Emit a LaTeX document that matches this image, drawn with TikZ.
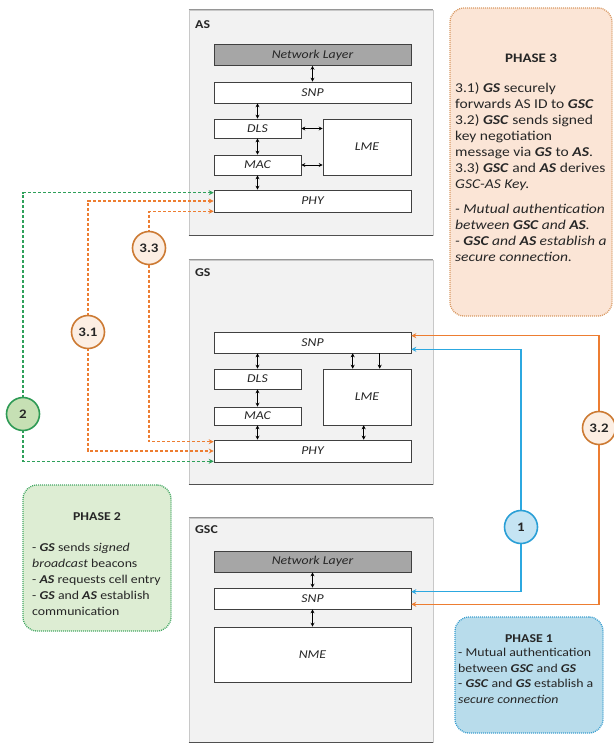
\documentclass[tikz,border=0pt]{standalone}
\usepackage{fontspec}
\setmainfont{Carlito}[FakeStretch=1.15]
\usetikzlibrary{arrows.meta,calc}
\definecolor{cfill}{HTML}{F2F2F2}
\definecolor{cedge}{HTML}{C8C8C8}
\definecolor{cdark}{HTML}{505050}
\definecolor{netgray}{HTML}{A6A6A6}
\definecolor{boxedge}{HTML}{404040}
\definecolor{orangeL}{HTML}{ED7D31}
\definecolor{blueL}{HTML}{2CA8E0}
\definecolor{greenL}{HTML}{2EA05A}
\definecolor{p3fill}{HTML}{FBE5D6}
\definecolor{p3edge}{HTML}{D99A64}
\definecolor{p2fill}{HTML}{DDEDD3}
\definecolor{p2edge}{HTML}{45A865}
\definecolor{p1fill}{HTML}{B8DCEB}
\definecolor{p1edge}{HTML}{3C9FD0}
\definecolor{c1fill}{HTML}{C5E4F3}
\definecolor{c1edge}{HTML}{2A9FD6}
\definecolor{c2fill}{HTML}{C6E0B4}
\definecolor{c2edge}{HTML}{2E9A55}
\definecolor{c3fill}{HTML}{FCEEE3}
\definecolor{c3edge}{HTML}{CC7A33}
\definecolor{txt}{HTML}{262626}
\newcommand{\bi}[1]{\textbf{\textit{#1}}}
\begin{document}
\begin{tikzpicture}[x=1pt,y=-1pt,
  container/.style={draw=cedge, fill=cfill, line width=0.6pt, inner sep=0, minimum width=244pt},
  edgeline/.style={draw=cdark, line width=1pt},
  layer/.style={draw=boxedge, fill=white, line width=0.6pt, inner sep=0, text=txt,
     font=\fontsize{12}{14}\selectfont\itshape, minimum width=197pt, minimum height=21pt},
  netlayer/.style={layer, fill=netgray},
  halfbox/.style={layer, minimum width=87pt},
  lbl/.style={anchor=west, inner sep=0, text=txt, font=\fontsize{12}{14}\selectfont\bfseries},
  link/.style={{Stealth[length=4pt,width=4pt]}-{Stealth[length=4pt,width=4pt]}, line width=0.8pt, black},
  onelink/.style={-{Stealth[length=4pt,width=4pt]}, line width=0.8pt, black},
  dlink/.style={line width=1.4pt, dash pattern=on 3pt off 2pt,
     {Stealth[length=5pt,width=5pt]}-{Stealth[length=5pt,width=5pt]}},
  slink/.style={line width=1.4pt, {Stealth[length=5pt,width=5pt]}-{Stealth[length=5pt,width=5pt]}},
  circ/.style={circle, minimum size=33pt, inner sep=0, line width=1.6pt, text=txt,
     font=\fontsize{13}{15}\selectfont\bfseries},
  phasebox/.style={rounded corners=14pt, line width=1.3pt, dash pattern=on 1pt off 1pt, inner sep=0},
  phtitle/.style={inner sep=0, text=txt, font=\fontsize{12}{14}\selectfont\bfseries},
  phbody/.style={anchor=north west, inner sep=0, align=left, text=txt}
]
\useasboundingbox (0,0) rectangle (613,743);

% containers
\node[container, minimum height=225pt] (AS) at (311,122.5) {};
\node[container, minimum height=224pt] (GS) at (311,372) {};
\node[container, minimum height=224pt] (GSC) at (311,630) {};
\foreach \c in {AS,GS,GSC}{
  \draw[edgeline, draw=cdark!60] (\c.north west) -- (\c.north east);
  \draw[edgeline] (\c.south west) -- (\c.south east);
}
\node[lbl] (ASlbl) at (195,25) {AS};
\node[lbl] (GSlbl) at (195,273) {GS};
\node[lbl] (GSClbl) at (195,530) {GSC};

% AS stack
\node[netlayer] (ASNL) at (312.5,55) {Network Layer};
\node[layer] (ASSNP) at (312.5,92.5) {SNP};
\node[halfbox, minimum height=19pt] (ASDLS) at (257.5,128.5) {DLS};
\node[halfbox, minimum height=20pt] (ASMAC) at (257.5,165) {MAC};
\node[layer, minimum width=88pt, minimum height=56pt] (ASLME) at (367,147) {LME};
\node[layer, minimum height=22pt] (ASPHY) at (312.5,201) {PHY};
\draw[link] (ASNL) -- (ASSNP);
\draw[link] (ASSNP.south -| ASDLS.north) -- (ASDLS.north);
\draw[link] (ASDLS) -- (ASMAC);
\draw[link] (ASMAC.south) -- (ASPHY.north -| ASMAC.south);
\draw[link] (ASDLS.east) -- (ASLME.west |- ASDLS.east);
\draw[link] (ASMAC.east) -- (ASLME.west |- ASMAC.east);

% GS stack
\node[layer] (GSSNP) at (312.5,342.5) {SNP};
\node[halfbox, minimum height=20pt] (GSDLS) at (257.5,379) {DLS};
\node[halfbox, minimum height=18pt] (GSMAC) at (257.5,416) {MAC};
\node[layer, minimum width=88pt, minimum height=56pt] (GSLME) at (367,397) {LME};
\node[layer, minimum height=22pt] (GSPHY) at (312.5,451) {PHY};
\draw[link] (GSSNP.south -| GSDLS.north) -- (GSDLS.north);
\draw[link] (GSDLS) -- (GSMAC);
\draw[link] (GSMAC.south) -- (GSPHY.north -| GSMAC.south);
\draw[link] ($(GSLME.north west)+(30,0)$) -- ($(GSSNP.south west)+(139,0)$);
\draw[onelink] ($(GSSNP.south west)+(166,0)$) -- ($(GSLME.north west)+(57,0)$);
\draw[link] ($(GSLME.south west)+(41,0)$) -- ($(GSPHY.north west)+(150,0)$);

% GSC stack
\node[netlayer] (GSCNL) at (312.5,561.5) {Network Layer};
\node[layer] (GSCSNP) at (312.5,598.5) {SNP};
\node[layer, minimum height=55pt] (GSCNME) at (312.5,654.5) {NME};
\draw[link] (GSCNL) -- (GSCSNP);
\draw[link] (GSCSNP) -- (GSCNME);

% circles (placed first as coordinates for routing)
\coordinate (c2p) at (23,414);
\coordinate (c31p) at (88,332);
\coordinate (c33p) at (149,248);
\coordinate (c1p) at (521,527);
\coordinate (c32p) at (599,428);

% connectors
\draw[dlink, greenL] ($(ASPHY.north west)+(0,3)$) -| (c2p) |- ($(GSPHY.south west)+(0,-1)$);
\draw[dlink, orangeL] (ASPHY.west) -| (c31p) |- (GSPHY.west);
\draw[dlink, orangeL] ($(ASPHY.south west)+(0,-1)$) -| (c33p) |- ($(GSPHY.north west)+(0,2)$);
\draw[slink, blueL] ($(GSSNP.south east)+(0,-4)$) -| (c1p) |- ($(GSCSNP.north east)+(0,4)$);
\draw[slink, orangeL] ($(GSSNP.north east)+(0,4)$) -| (c32p) |- ($(GSCSNP.south east)+(0,-5)$);

\node[circ, draw=c2edge, fill=c2fill] (c2) at (c2p) {2};
\node[circ, draw=c3edge, fill=c3fill] (c31) at (c31p) {3.1};
\node[circ, draw=c3edge, fill=c3fill] (c33) at (c33p) {3.3};
\node[circ, draw=c1edge, fill=c1fill] (c1) at (c1p) {1};
\node[circ, draw=c3edge, fill=c3fill] (c32) at (c32p) {3.2};

% phase 3
\node[phasebox, draw=p3edge, fill=p3fill, minimum width=162pt, minimum height=308pt] (ph3) at (531,162) {};
\node[phtitle, font=\fontsize{13}{15}\selectfont\bfseries] (ph3t) at (531,58) {PHASE 3};
\node[phbody, font=\fontsize{13.5}{16}\selectfont] (ph3b) at (455,82) {3.1) \bi{GS} securely\\
forwards AS ID to \bi{GSC}\\
3.2) \bi{GSC} sends signed\\
key negotiation\\
message via \bi{GS} to \bi{AS}.\\
3.3) \bi{GSC} and \bi{AS} derives\\
\textit{GSC-AS Key.}\\[9pt]
\textit{- Mutual authentication}\\
\textit{between \textbf{GSC} and \textbf{AS}.}\\
\textit{- \textbf{GSC} and \textbf{AS} establish a}\\
\textit{secure connection.}};

% phase 2
\node[phasebox, draw=p2edge, fill=p2fill, minimum width=148pt, minimum height=146pt] (ph2) at (97,558) {};
\node[phtitle] (ph2t) at (97,517) {PHASE 2};
\node[phbody, font=\fontsize{12}{16}\selectfont] (ph2b) at (32,543) {- \bi{GS} sends \textit{signed}\\
\textit{broadcast} beacons\\
- \bi{AS} requests cell entry\\
- \bi{GS} and \bi{AS} establish\\
communication};

% phase 1
\node[phasebox, draw=p1edge, fill=p1fill, minimum width=148pt, minimum height=116pt] (ph1) at (529,675) {};
\node[phtitle] (ph1t) at (529,639) {PHASE 1};
\node[phbody, font=\fontsize{12}{15.7}\selectfont] (ph1b) at (458,648) {- Mutual authentication\\
between \bi{GSC} and \bi{GS}\\
- \bi{GSC} and \bi{GS} establish a\\
\textit{secure connection}};
\end{tikzpicture}
\end{document}
